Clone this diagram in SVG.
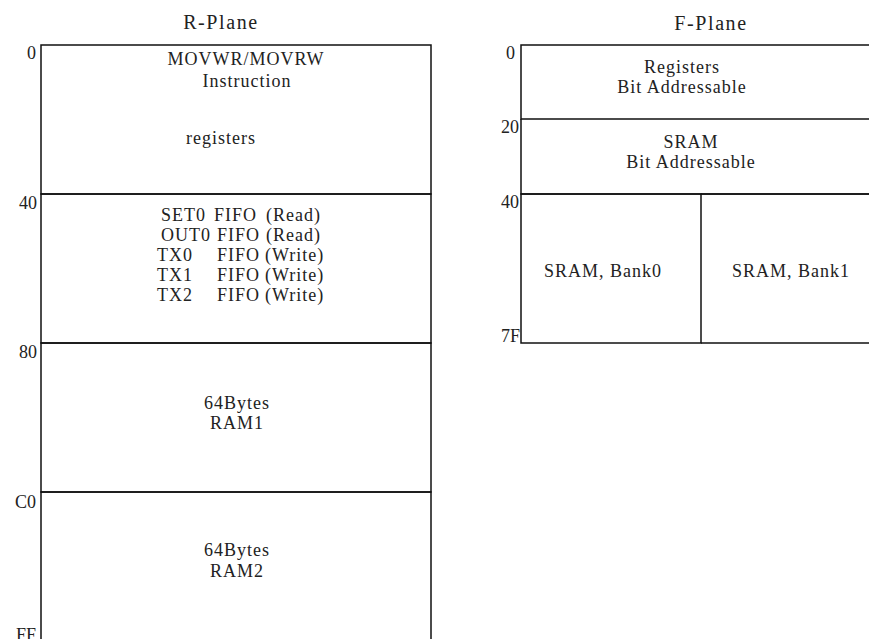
<svg xmlns="http://www.w3.org/2000/svg" width="869" height="639" viewBox="0 0 869 639">
<style>
text{font-family:"Liberation Serif","DejaVu Serif",serif;fill:#222;font-size:18px;letter-spacing:1px}
.t{font-size:20px;text-anchor:middle;letter-spacing:1.6px}
.c{text-anchor:middle}
.a{text-anchor:end;letter-spacing:0}
.b{fill:none;stroke:#111;stroke-width:1.5}
</style>
<rect width="869" height="639" fill="#fff"/>
<g id="rplane">
<text class="t" x="221" y="29">R-Plane</text>
<g id="r0">
<rect class="b" x="41" y="45" width="390" height="149"/>
<text class="a" x="36" y="59">0</text>
<text class="c" x="246" y="65">MOVWR/MOVRW</text>
<text class="c" x="247" y="87">Instruction</text>
<text class="c" x="221" y="144">registers</text>
</g>
<g id="r40">
<rect class="b" x="41" y="194" width="390" height="149"/>
<text class="a" x="37" y="209">40</text>
<text y="221"><tspan x="161">SET0</tspan><tspan x="214">FIFO</tspan><tspan x="266">(Read)</tspan></text>
<text y="241"><tspan x="161">OUT0</tspan><tspan x="217">FIFO</tspan><tspan x="266">(Read)</tspan></text>
<text y="261"><tspan x="157">TX0</tspan><tspan x="217">FIFO</tspan><tspan x="265">(Write)</tspan></text>
<text y="281"><tspan x="157">TX1</tspan><tspan x="217">FIFO</tspan><tspan x="265">(Write)</tspan></text>
<text y="301"><tspan x="157">TX2</tspan><tspan x="217">FIFO</tspan><tspan x="265">(Write)</tspan></text>
</g>
<g id="r80">
<rect class="b" x="41" y="343" width="390" height="149"/>
<text class="a" x="37" y="358">80</text>
<text class="c" x="237" y="409">64Bytes</text>
<text class="c" x="237" y="429">RAM1</text>
</g>
<g id="rC0">
<path class="b" d="M41,645 V492 H431 V645"/>
<text class="a" x="36" y="508">C0</text>
<text class="c" x="237" y="556">64Bytes</text>
<text class="c" x="237" y="577">RAM2</text>
<text class="a" x="36" y="641">FF</text>
</g>
</g>
<g id="fplane">
<text class="t" x="711" y="30">F-Plane</text>
<g id="f0">
<path class="b" d="M875,45 H521 V119 H875"/>
<text class="a" x="515" y="59">0</text>
<text class="c" x="682" y="73">Registers</text>
<text class="c" x="682" y="93">Bit Addressable</text>
</g>
<g id="f20">
<path class="b" d="M521,119 V194 H875"/>
<text class="a" x="519" y="133">20</text>
<text class="c" x="691" y="148">SRAM</text>
<text class="c" x="691" y="168">Bit Addressable</text>
</g>
<g id="bank0">
<rect class="b" x="521" y="194" width="180" height="149"/>
<text class="a" x="519" y="208">40</text>
<text class="c" x="603" y="277">SRAM, Bank0</text>
<text class="a" x="520" y="342">7F</text>
</g>
<g id="bank1">
<path class="b" d="M701,194 H875 M701,343 H875"/>
<text class="c" x="791" y="277">SRAM, Bank1</text>
</g>
</g>
<g id="connectors"></g>
</svg>
